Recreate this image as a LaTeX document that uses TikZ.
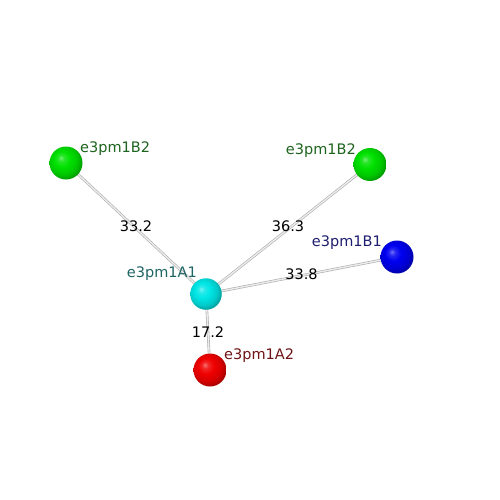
\documentclass[tikz,border=0pt]{standalone}
\usepackage{fontspec}
\setmainfont{DejaVu Sans}
\usetikzlibrary{backgrounds}
\definecolor{ballgreen}{RGB}{0,225,0}
\definecolor{ballcyan}{RGB}{0,230,230}
\definecolor{ballblue}{RGB}{0,0,240}
\definecolor{ballred}{RGB}{240,0,0}
\definecolor{lblgreen}{RGB}{30,100,30}
\definecolor{lblnavy}{RGB}{30,30,110}
\definecolor{lblteal}{RGB}{30,100,100}
\definecolor{lblred}{RGB}{110,20,20}
\makeatletter
\pgfdeclareradialshading[tikz@ball]{softball}{\pgfqpoint{-8bp}{8bp}}{%
  color(0bp)=(tikz@ball!55!white); color(5bp)=(tikz@ball!85!white);
  color(12bp)=(tikz@ball); color(22bp)=(tikz@ball!88!black);
  color(30bp)=(tikz@ball!65!black); color(50bp)=(tikz@ball!50!black)}
\makeatother
\tikzset{
  atom/.style 2 args={circle, minimum size=#1, inner sep=0pt, ball color=#2, shading=softball},
  lbl/.style={font=\fontsize{14.5}{16}\selectfont, inner sep=0pt},
  bond/.style={draw=gray!65, line width=0.6pt, double=gray!15, double distance=1.4pt},
  dist/.style={font=\fontsize{14.5}{16}\selectfont, inner sep=0pt, text=black},
}
\begin{document}
\begin{tikzpicture}[x=1pt, y=-1pt]
\useasboundingbox (0,0) rectangle (500,500);
\node[atom={33pt}{ballgreen}] (b2l) at (66,163) {};
\node[atom={33pt}{ballgreen}] (b2r) at (370,164.5) {};
\node[atom={33pt}{ballblue}] (b1) at (397,257) {};
\node[atom={31.5pt}{ballcyan}] (a1) at (206,294) {};
\node[atom={33pt}{ballred}] (a2) at (210,370) {};
\begin{scope}[on background layer]
\draw[bond] (a1.center) -- (b2l.center) node[dist, midway, yshift=2pt] (d1) {33.2};
\draw[bond] (a1.center) -- (b2r.center) node[dist, midway, yshift=3pt] (d2) {36.3};
\draw[bond] (a1.center) -- (b1.center) node[dist, midway, yshift=1.5pt] (d3) {33.8};
\draw[bond] (a1.center) -- (a2.center) node[dist, midway] (d4) {17.2};
\end{scope}
\node[lbl, text=lblgreen, anchor=west] (t1) at (80,149) {e3pm1B2};
\node[lbl, text=lblgreen, anchor=east] (t2) at (356,151) {e3pm1B2};
\node[lbl, text=lblnavy, anchor=east] (t3) at (382,243) {e3pm1B1};
\node[lbl, text=lblteal, anchor=east] (t4) at (197,274) {e3pm1A1};
\node[lbl, text=lblred, anchor=west] (t5) at (224,356) {e3pm1A2};
\end{tikzpicture}
\end{document}
